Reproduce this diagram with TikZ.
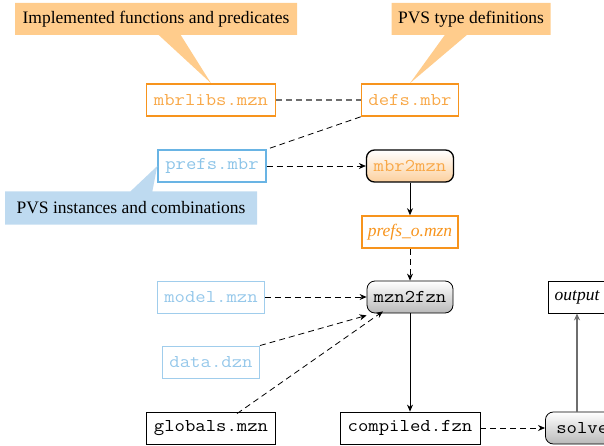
\documentclass[tikz,border=0pt]{standalone}
\usepackage{fontspec}
\setmainfont{Liberation Serif}
\setmonofont[FakeStretch=1.12]{Latin Modern Mono}
\usetikzlibrary{shapes.callouts,arrows.meta}
\definecolor{oborder}{RGB}{247,148,29}
\definecolor{otext}{RGB}{248,168,72}
\definecolor{ofill}{RGB}{255,204,140}
\definecolor{bfill}{RGB}{190,218,240}
\definecolor{bborder}{RGB}{105,180,228}
\definecolor{btext}{RGB}{140,196,232}
\definecolor{lborder}{RGB}{160,205,236}
\definecolor{ltext}{RGB}{150,200,234}
\definecolor{ogfill}{RGB}{252,208,158}
\definecolor{ggfill}{RGB}{185,185,185}
\definecolor{dgray}{RGB}{110,110,110}
\newcommand{\ttsz}{\fontsize{18}{21}\selectfont\ttfamily}
\tikzset{
  every node/.style={font=\fontsize{17.5}{20}\selectfont, inner sep=2pt, minimum height=32pt},
  obox/.style={draw=oborder, line width=1.6pt, text=otext, font=\ttsz},
  bbox/.style={draw=bborder, line width=1.4pt, text=btext, font=\ttsz},
  lbox/.style={draw=lborder, line width=0.9pt, text=ltext, font=\ttsz},
  kbox/.style={draw=black, line width=0.8pt, font=\ttsz},
  orproc/.style={draw=black, line width=1.3pt, rounded corners=8pt, top color=white, bottom color=ogfill, text=otext, font=\ttsz},
  grproc/.style={draw=black, line width=0.8pt, rounded corners=8pt, top color=white, bottom color=ggfill, font=\ttsz},
  ocall/.style={rectangle callout, fill=ofill, callout pointer width=22pt, minimum height=32pt},
  bcall/.style={rectangle callout, fill=bfill, callout pointer width=22pt, minimum height=33pt},
  tip/.style={-{Stealth[length=7pt,width=6pt]}},
  bdash/.style={draw=black, line width=0.8pt, dash pattern=on 6pt off 4pt},
  gdash/.style={draw=dgray, line width=1.2pt, dash pattern=on 6pt off 4pt},
  sline/.style={draw=black, line width=0.8pt},
}
\begin{document}
\begin{tikzpicture}[x=1pt,y=-1pt]
\useasboundingbox (0,0) rectangle (604,446);
% files
\node[obox, minimum width=129pt] (mbrlibs) at (211,100) {mbrlibs.mzn};
\node[obox, minimum width=97pt] (defs) at (410,100) {defs.mbr};
\node[bbox, minimum width=108pt] (prefs) at (212,166) {prefs.mbr};
\node[orproc, minimum width=87pt] (mbr2mzn) at (410,166) {mbr2mzn};
\node[obox, minimum width=96pt, font=\fontsize{17.5}{20}\selectfont\itshape, text=oborder] (prefso) at (410,232) {prefs\_o.mzn};
\node[lbox, minimum width=107pt] (model) at (211,297) {model.mzn};
\node[grproc, minimum width=86pt] (mzn2fzn) at (410,297) {mzn2fzn};
\node[kbox, minimum width=58pt, font=\fontsize{17.5}{20}\selectfont\itshape] (output) at (577,297) {output};
\node[lbox, minimum width=97pt] (data) at (211,362) {data.dzn};
\node[kbox, minimum width=129pt] (globals) at (211,428) {globals.mzn};
\node[kbox, minimum width=140pt] (compiled) at (410,428) {compiled.fzn};
\node[grproc, minimum width=84pt, anchor=west] (solver) at (545,428) {solver};
% callouts
\node[ocall, minimum width=282pt, callout absolute pointer={(mbrlibs.north)}] (c1) at (156,19) {Implemented functions and predicates};
\node[ocall, minimum width=159pt, callout absolute pointer={(defs.north)}] (c2) at (471,19) {PVS type definitions};
\node[bcall, minimum width=252pt, callout absolute pointer={(prefs.west)}] (c3) at (131,208) {PVS instances and combinations};
% connectors
\draw[gdash] (mbrlibs) -- (defs);
\draw[bdash] (defs.south west) -- (prefs.north east);
\draw[bdash, tip] (prefs) -- (mbr2mzn);
\draw[sline, tip] (mbr2mzn) -- (prefso);
\draw[bdash, tip] (prefso) -- (mzn2fzn);
\draw[bdash, tip] (model) -- (mzn2fzn);
\draw[bdash, tip] (data.north east) -- ([yshift=-2pt]mzn2fzn.south west);
\draw[bdash, tip] ([xshift=26pt,yshift=-2pt]globals.north) -- ([xshift=-27pt,yshift=2pt]mzn2fzn.south);
\draw[sline, tip] (mzn2fzn) -- (compiled);
\draw[bdash, tip] (compiled) -- (solver);
\draw[draw=dgray, line width=1.1pt, tip] (solver.north -| output) -- (output.south);
\end{tikzpicture}
\end{document}
